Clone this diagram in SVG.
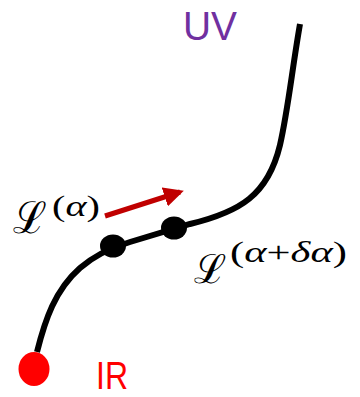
<svg xmlns="http://www.w3.org/2000/svg" width="360" height="397" viewBox="0 0 360 397">
<style>
.lbl{font-family:"Liberation Sans",Arial,sans-serif}
.math{font-family:"DejaVu Serif","Liberation Serif",serif}
.sup{font-family:"Liberation Serif","DejaVu Serif",serif}
</style>
<defs>
<marker id="ah" viewBox="0 0 10 10" refX="8" refY="5" markerWidth="4" markerHeight="4" orient="auto" markerUnits="strokeWidth">
<path d="M0,0 L10,5 L0,10 z" fill="#C00000"/>
</marker>
</defs>
<rect width="360" height="397" fill="#fff"/>
<g id="connectors">
<path id="flow" d="M 37,352 C 45,320 55,290 80,268 C 95,255 110,248 130,242 L 190,224 C 240,212 268,195 280,145 C 288,110 292,70 300,24" fill="none" stroke="#000" stroke-width="6"/>
<line id="rg-arrow" x1="105" y1="216" x2="180" y2="192" stroke="#C00000" stroke-width="5" marker-end="url(#ah)"/>
</g>
<g id="ir-node">
<ellipse cx="34" cy="369" rx="15.5" ry="17" fill="#FF0000"/>
<text class="lbl" x="96" y="389" font-size="38" fill="#FF0000" textLength="32" lengthAdjust="spacingAndGlyphs">IR</text>
</g>
<g id="uv-node">
<text class="lbl" x="183" y="40" font-size="40" fill="#7030A0" textLength="54" lengthAdjust="spacingAndGlyphs">UV</text>
</g>
<g id="point-a">
<ellipse cx="113" cy="246" rx="13" ry="11.5" fill="#000"/>
</g>
<g id="point-b">
<ellipse cx="174" cy="228" rx="13" ry="11.5" fill="#000"/>
</g>
<g id="label-a">
<text class="math" x="13" y="233" font-size="44" textLength="34" lengthAdjust="spacingAndGlyphs">ℒ</text>
<text class="sup" x="52" y="216" font-size="30" textLength="48" lengthAdjust="spacingAndGlyphs">(<tspan font-style="italic">α</tspan>)</text>
</g>
<g id="label-b">
<text class="math" x="194" y="283" font-size="40" textLength="32" lengthAdjust="spacingAndGlyphs">ℒ</text>
<text class="sup" x="230" y="262" font-size="30" textLength="117" lengthAdjust="spacingAndGlyphs">(<tspan font-style="italic">α</tspan>+<tspan font-style="italic">δα</tspan>)</text>
</g>
</svg>
